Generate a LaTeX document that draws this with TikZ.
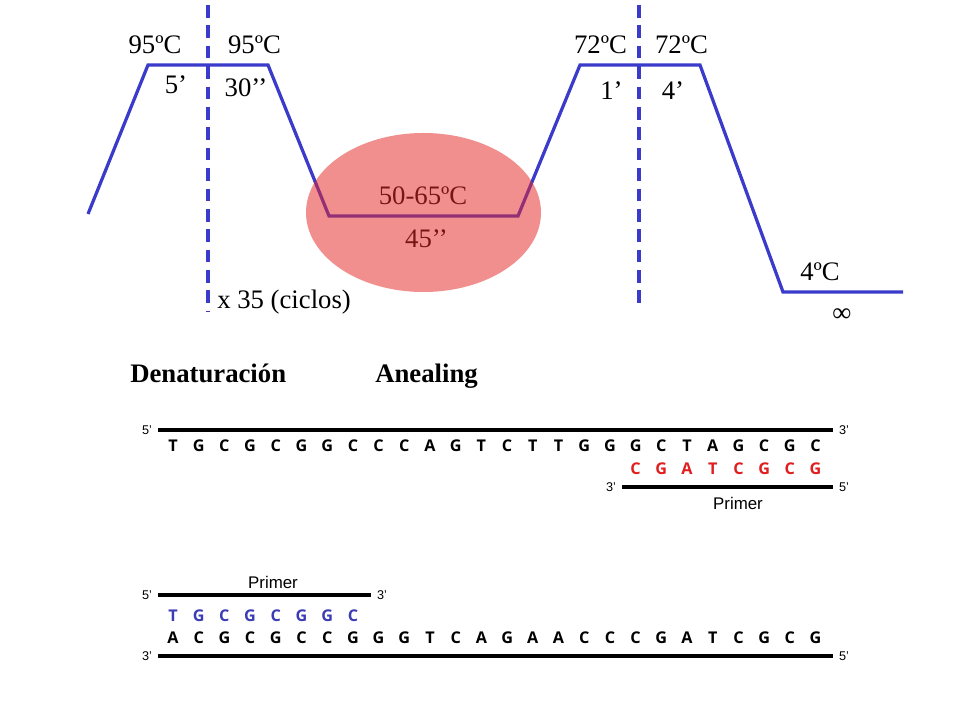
\documentclass[tikz,border=0pt]{standalone}
\usepackage{fontspec}
\setmainfont{Liberation Serif}
\newfontfamily\seqfont{Open Sans}
\newfontfamily\labfont{Liberation Sans}
\usetikzlibrary{positioning,calc}
\definecolor{curve}{HTML}{3A3ACB}
\definecolor{blob}{HTML}{E62828}
\definecolor{primred}{HTML}{E01E1E}
\definecolor{primblue}{HTML}{3C3CB4}

\begin{document}
\begin{tikzpicture}[
  x=0.025cm,y=-0.025cm,
  temp/.style={font=\fontsize{19}{22}\selectfont,inner sep=0pt},
  phase/.style={font=\fontsize{19}{22}\selectfont\bfseries,inner sep=0pt,anchor=base west},
  base/.style={font=\seqfont\bfseries\fontsize{11.5}{13}\selectfont,inner sep=0pt,anchor=base},
  endmark/.style={font=\labfont\fontsize{9}{10}\selectfont,inner sep=0pt,outer xsep=4.5pt},
  primer/.style={font=\labfont\fontsize{12}{14}\selectfont,inner sep=0pt},
  profile/.style={draw=curve,line width=2.3pt},
  cycle/.style={draw=curve,line width=2.4pt,dash pattern=on 9pt off 5.5pt},
  strand/.style={draw=black,line width=2.3pt}
]
\fill[white] (0,0) rectangle (960,720);
\useasboundingbox (0,0) rectangle (960,720);
% thermal profile
\draw[profile] (88,214) -- (148,65) -- (268,65) -- (329,216) -- (518,216)
  -- (580,65) -- (700,65) -- (783,292) -- (903,292);
\draw[cycle] (208,5) -- (208,312);
\draw[cycle] (639,5) -- (639,310);
\node[temp] (hot1) at (155,45) {95ºC};
\node[temp] (hot2) at (254.5,45) {95ºC};
\node[temp] (t5min) at (176,85) {5’};
\node[temp] (t30s) at (246,88) {30’’};
\node[temp,anchor=west] (cycles) at (217,302) {x 35 (ciclos)};
\node[temp] (anneal) at (423,196) {50-65ºC};
\node[temp] (t45s) at (426.5,238.5) {45’’};
\node[temp] (ext1) at (600.5,45) {72ºC};
\node[temp] (ext2) at (681.5,45) {72ºC};
\node[temp] (t1min) at (611.5,90.5) {1’};
\node[temp] (t4min) at (673,90.5) {4’};
\node[temp] (hold) at (820,272) {4ºC};
\node[temp] (forever) at (842,315.5) {∞};
\fill[blob,fill opacity=0.52] (423.5,212.5) ellipse [x radius=117.5,y radius=79.5];
% stages
\node[phase] (denat) at (130,383) {Denaturación};
\node[phase] (aneal) at (375,383) {Anealing};
% upper duplex
\node[endmark] (a5) at (147,430) {5’};
\node[endmark] (a3) at (844,430) {3’};
\draw[strand] (a5) -- (a3);
\foreach \b [count=\i] in {T,G,C,G,C,G,G,C,C,C,A,G,T,C,T,T,G,G,G,C,T,A,G,C,G,C}
  \node[base] (up\i) at ({173+25.7*(\i-1)},452) {\b};
\foreach \b [count=\i from 19] in {C,G,A,T,C,G,C,G}
  \node[base,text=primred] (rp\i) at ({173+25.7*(\i-1)},475) {\b};
\node[endmark] (b3) at (611,487) {3’};
\node[endmark] (b5) at (844,487) {5’};
\draw[strand] (b3) -- (b5);
\node[primer] (rplab) at (738,503) {Primer};
% lower duplex
\node[primer] (bplab) at (273,582) {Primer};
\node[endmark] (c5) at (147,595) {5’};
\node[endmark] (c3) at (382,595) {3’};
\draw[strand] (c5) -- (c3);
\foreach \b [count=\i] in {T,G,C,G,C,G,G,C}
  \node[base,text=primblue] (bp\i) at ({173+25.7*(\i-1)},621) {\b};
\foreach \b [count=\i] in {A,C,G,C,G,C,C,G,G,G,T,C,A,G,A,A,C,C,C,G,A,T,C,G,C,G}
  \node[base] (dn\i) at ({173+25.7*(\i-1)},643) {\b};
\node[endmark] (d3) at (147,656) {3’};
\node[endmark] (d5) at (844,656) {5’};
\draw[strand] (d3) -- (d5);
\end{tikzpicture}
\end{document}
